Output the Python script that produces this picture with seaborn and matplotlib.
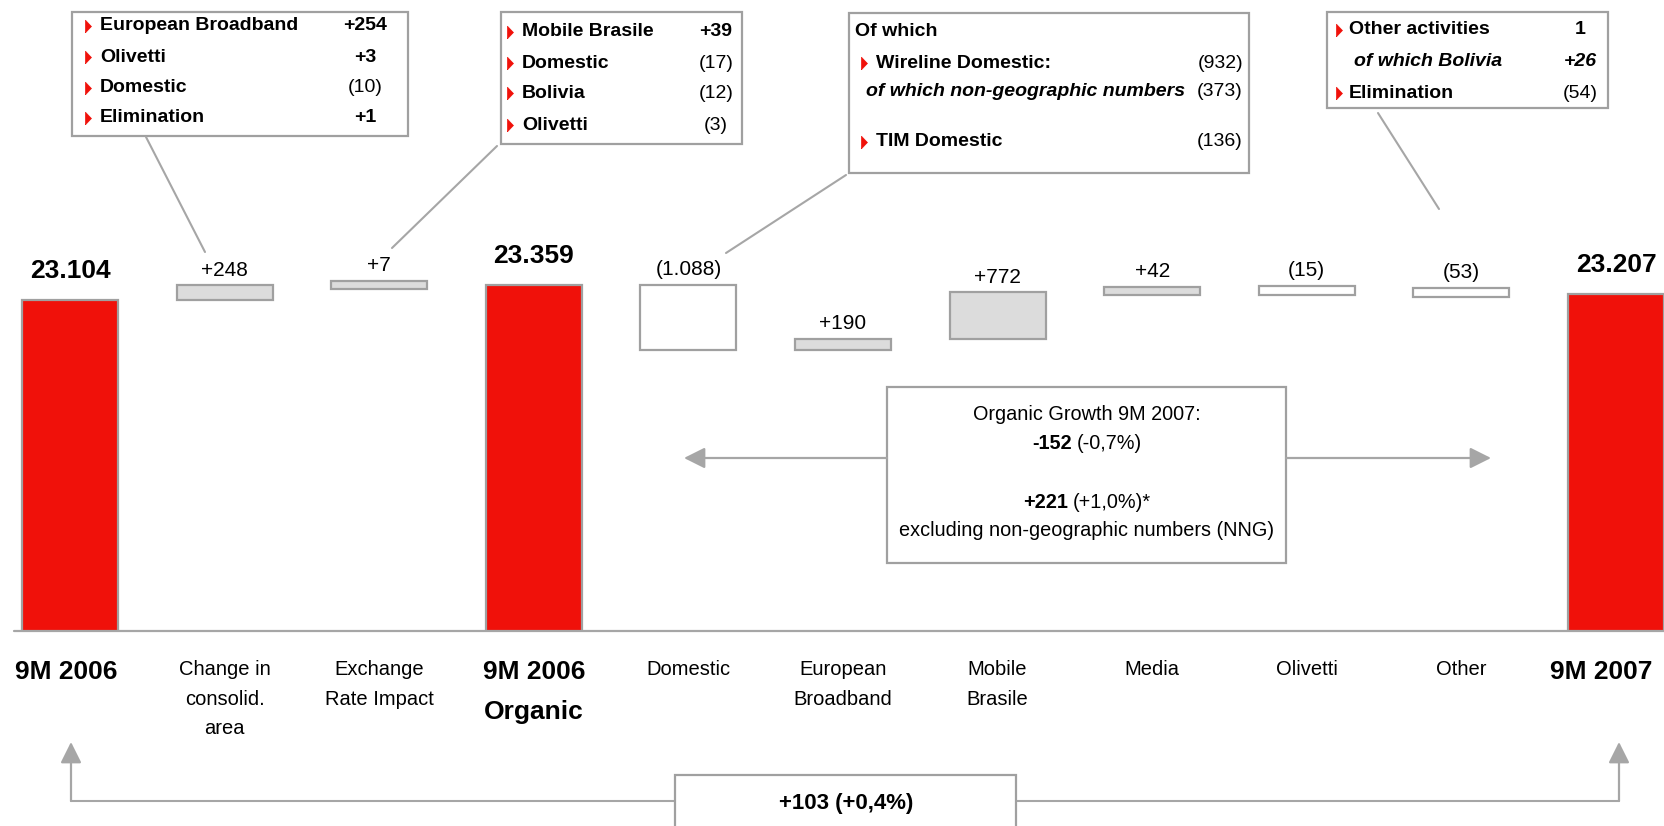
import numpy as np
import pandas as pd
import matplotlib
matplotlib.use("Agg")
import matplotlib.pyplot as plt
import matplotlib.transforms as mtransforms
import seaborn as sns
from matplotlib.patches import Rectangle, FancyArrowPatch
from matplotlib.lines import Line2D
from matplotlib.offsetbox import TextArea, HPacker, AnnotationBbox

# ---------------- data ----------------
categories = ["9M 2006", "Change in\nconsolid.\narea", "Exchange\nRate Impact",
              "9M 2006\nOrganic", "Domestic", "European\nBroadband", "Mobile\nBrasile",
              "Media", "Olivetti", "Other", "9M 2007"]
kinds = ["total", "delta", "delta", "total", "delta", "delta", "delta",
         "delta", "delta", "delta", "total"]
values = [23104, 248, 7, 23359, -1088, 190, 772, 42, -15, -53, 23207]
value_labels = ["23.104", "+248", "+7", "23.359", "(1.088)", "+190", "+772",
                "+42", "(15)", "(53)", "23.207"]

box1_items = ["European Broadband", "Olivetti", "Domestic", "Elimination"]
box1_values = ["+254", "+3", "(10)", "+1"]
box2_items = ["Mobile Brasile", "Domestic", "Bolivia", "Olivetti"]
box2_values = ["+39", "(17)", "(12)", "(3)"]
box3_items = ["Wireline Domestic:", "of which non-geographic numbers", "TIM Domestic"]
box3_values = ["(932)", "(373)", "(136)"]
box4_items = ["Other activities", "of which Bolivia", "Elimination"]
box4_values = ["1", "+26", "(54)"]
organic_growth = ("-152", "(-0,7%)")
organic_growth_ex_nng = ("+221", "(+1,0%)*")
total_growth = "+103 (+0,4%)"

# ---------------- style ----------------
RED = "#F0110A"
GREY_FILL = "#DCDCDC"
EDGE = "#A0A0A0"
LINE = "#A6A6A6"

sns.set_theme(style="white")
plt.rcParams["font.family"] = ["Liberation Sans", "DejaVu Sans"]

W, H = 1664, 826
fig = plt.figure(figsize=(W / 100, H / 100), dpi=100)
ax = fig.add_axes([0, 195 / H, 1, 631 / H])

df = pd.DataFrame({"category": categories, "value": values, "kind": kinds})
tot = df[df["kind"] == "total"]
sns.barplot(data=tot, x="category", y="value", order=categories, color=RED,
            saturation=1, width=0.62, edgecolor=EDGE, linewidth=1.6,
            errorbar=None, ax=ax)

# floating boxes
MIN_EXT = 140
level = None
label_y = []
for i, (v, k) in enumerate(zip(values, kinds)):
    if k == "total":
        level = v
        label_y.append(v)
        continue
    s, e = level, level + v
    level = e
    lo, hi = min(s, e), max(s, e)
    ext = max(hi - lo, MIN_EXT)
    mid = (lo + hi) / 2
    ax.bar(i, ext, bottom=mid - ext / 2, width=0.62,
           color=GREY_FILL if v > 0 else "white", edgecolor=EDGE,
           linewidth=1.6, zorder=3)
    label_y.append(mid + ext / 2)

for i, (yv, k, lab) in enumerate(zip(label_y, kinds, value_labels)):
    if k == "total":
        ax.annotate(lab, (i, yv), xytext=(0, 21), textcoords="offset points",
                    ha="center", va="center", fontsize=19, fontweight="bold",
                    color="black")
    else:
        ax.annotate(lab, (i, yv), xytext=(0, 11), textcoords="offset points",
                    ha="center", va="center", fontsize=15, color="black")

Y0 = 17590
ax.set_ylim(Y0, Y0 + 10517)
ax.set_xlim(-70 / 154.6, (W - 70) / 154.6)
ax.set_yticks([])
ax.set_xlabel("")
ax.set_ylabel("")
for sp in ax.spines.values():
    sp.set_visible(False)
ax.axhline(Y0, xmin=14 / W, xmax=1, color=LINE, lw=1.6, clip_on=False)
ax.tick_params(axis="x", length=0, pad=21)
labels = ax.get_xticklabels()
for lbl, k in zip(labels, kinds):
    if k == "total":
        lbl.set_fontsize(19)
        lbl.set_fontweight("bold")
        lbl.set_linespacing(1.85)
    else:
        lbl.set_fontsize(14.5)
        lbl.set_linespacing(1.7)
    lbl.set_color("black")
labels[-1].set_transform(labels[-1].get_transform() +
                         mtransforms.ScaledTranslation(-15 / 100, 0, fig.dpi_scale_trans))
labels[0].set_transform(labels[0].get_transform() +
                        mtransforms.ScaledTranslation(-4 / 100, 0, fig.dpi_scale_trans))


# ---------------- annotation helpers (figure pixel coords) ----------------
def fx(x):
    return x / W


def fy(y):
    return 1 - y / H


def frect(x0, y0, x1, y1, lw=1.6):
    fig.add_artist(Rectangle((fx(x0), fy(y1)), fx(x1) - fx(x0), fy(y0) - fy(y1),
                             transform=fig.transFigure, facecolor="white",
                             edgecolor=EDGE, lw=lw, zorder=2))


def fline(x0, y0, x1, y1, lw=1.5):
    fig.add_artist(Line2D([fx(x0), fx(x1)], [fy(y0), fy(y1)],
                          transform=fig.transFigure, color=LINE, lw=lw, zorder=2))


def ftext(x, y, s, ha="left", size=14, weight="bold", style="normal"):
    fig.text(fx(x), fy(y), s, ha=ha, va="center", fontsize=size,
             fontweight=weight, fontstyle=style, color="black", zorder=4)


TRI = [(0, -1), (0.95, 0), (0, 1), (0, -1)]


def ftri(x, y):
    fig.add_artist(Line2D([fx(x)], [fy(y)], marker=TRI, ms=9, mew=0.5,
                          color=RED, mec=RED, transform=fig.transFigure, zorder=4))


def farrow(x0, y0, x1, y1):
    fig.add_artist(FancyArrowPatch(
        (fx(x0), fy(y0)), (fx(x1), fy(y1)), transform=fig.transFigure,
        arrowstyle="-|>,head_length=8,head_width=4", mutation_scale=1.6,
        color=LINE, lw=1.6, shrinkA=0, shrinkB=0, zorder=2))


def val_weight(v):
    return "normal" if v.startswith("(") else "bold"


# box 1
frect(72, 12, 408, 136)
for y, it, v in zip([26, 57, 88, 118], box1_items, box1_values):
    ftri(85, y)
    ftext(100, y, it)
    ftext(365, y, v, ha="center", weight=val_weight(v))
fline(146, 137, 205, 252)

# box 2
frect(501, 12, 742, 144)
for y, it, v in zip([32, 63, 93, 125], box2_items, box2_values):
    ftri(507, y)
    ftext(522, y, it)
    ftext(716, y, v, ha="center", weight=val_weight(v))
fline(497, 146, 392, 248)

# box 3
frect(849, 13, 1249, 173)
ftext(855, 32, "Of which")
ftri(861, 63)
ftext(876, 63, box3_items[0])
ftext(866, 92, box3_items[1], style="italic")
ftri(861, 142)
ftext(876, 142, box3_items[2])
for y, v in zip([63, 92, 142], box3_values):
    ftext(1243, y, v, ha="right", weight="normal")
fline(846, 175, 726, 253)

# box 4
frect(1327, 12, 1608, 108)
ftri(1336, 30)
ftext(1349, 30, box4_items[0])
ftext(1354, 62, box4_items[1], style="italic")
ftri(1336, 93)
ftext(1349, 93, box4_items[2])
ftext(1580, 30, box4_values[0], ha="center")
ftext(1580, 62, box4_values[1], ha="center", style="italic")
ftext(1580, 93, box4_values[2], ha="center", weight="normal")
fline(1378, 113, 1439, 209)

# middle box (organic growth)
frect(887, 387, 1286, 563)
farrow(887, 458, 684, 458)
farrow(1286, 458, 1491, 458)
ftext(1087, 414, "Organic Growth 9M 2007:", ha="center", weight="normal", size=14.3)


def mixed(x, y, bold, normal, size=14.3):
    pk = HPacker(children=[TextArea(bold, textprops=dict(fontsize=size, fontweight="bold", color="black")),
                           TextArea(normal, textprops=dict(fontsize=size, color="black"))],
                 sep=4, pad=0, align="baseline")
    ab = AnnotationBbox(pk, (fx(x), fy(y)), xycoords="figure fraction",
                        frameon=False, box_alignment=(0.5, 0.5), pad=0, zorder=4)
    fig.add_artist(ab)


mixed(1087, 444, *organic_growth)
mixed(1087, 503, *organic_growth_ex_nng)
ftext(1087, 531, "excluding non-geographic numbers (NNG)", ha="center",
      weight="normal", size=14.3)

# bottom total growth
fline(71, 801, 675, 801)
fline(1016, 801, 1619, 801)
farrow(71, 801, 71, 742)
farrow(1619, 801, 1619, 742)
frect(675, 775, 1016, 845)
ftext(846, 804, total_growth, ha="center", size=16)

fig.savefig("out.png", dpi=100)
